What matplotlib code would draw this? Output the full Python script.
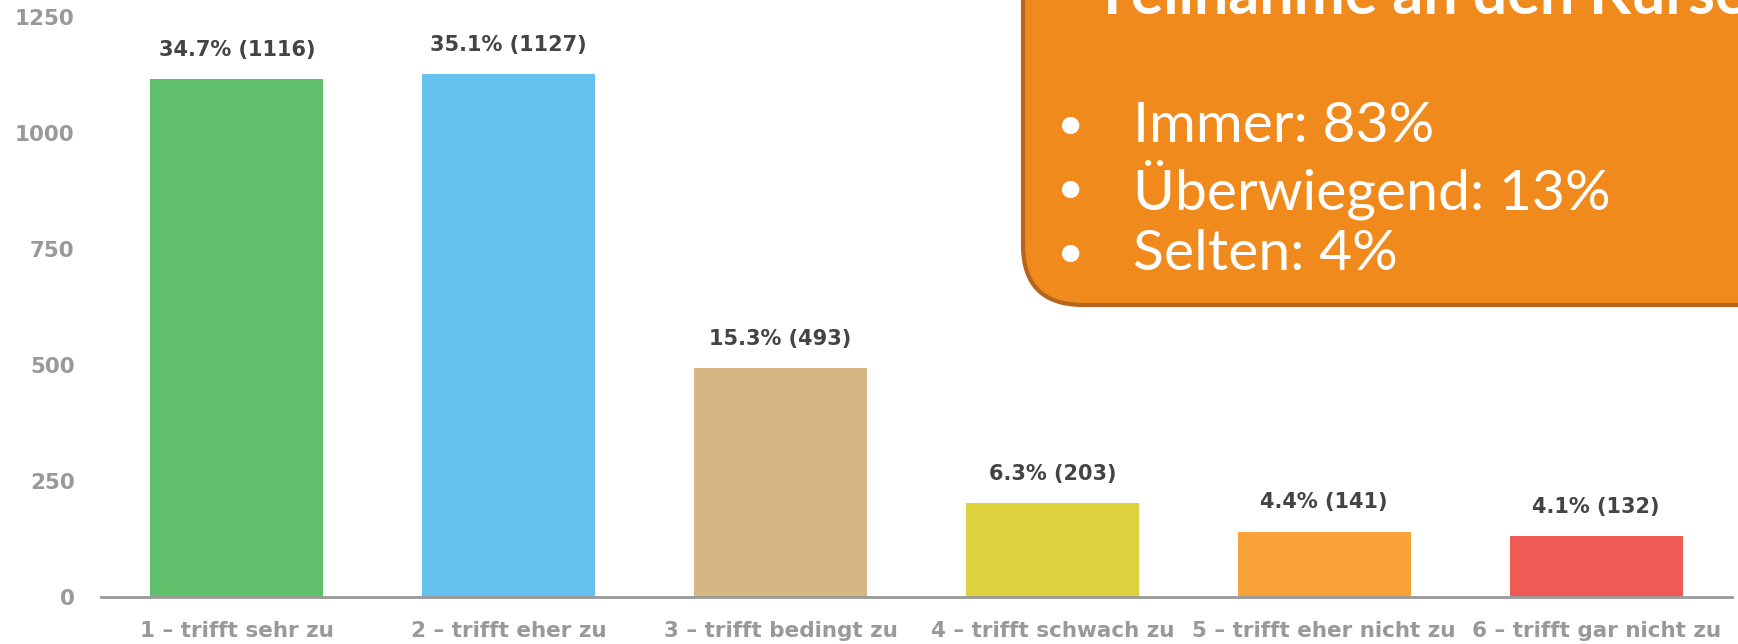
import matplotlib.pyplot as plt
from matplotlib.patches import FancyBboxPatch

# daten
kategorien = ["1 – trifft sehr zu", "2 – trifft eher zu", "3 – trifft bedingt zu",
              "4 – trifft schwach zu", "5 – trifft eher nicht zu", "6 – trifft gar nicht zu"]
anzahl = [1116, 1127, 493, 203, 141, 132]
prozent = [34.7, 35.1, 15.3, 6.3, 4.4, 4.1]
farben = ["#5fbf6a", "#67c1ef", "#d7b686", "#ddd13e", "#f9a23a", "#f05a55"]
y_ticks = [0, 250, 500, 750, 1000, 1250]

box_titel = "Teilnahme an den Kursen"
box_punkte = ["Immer: 83%", "Überwiegend: 13%", "Selten: 4%"]

W, H = 1738, 644
fig = plt.figure(figsize=(W / 100, H / 100), dpi=100)
ax = fig.add_axes([101 / W, 1 - 597 / H, (1732 - 101) / W, (597 - 17) / H])

x = range(len(kategorien))
ax.bar(x, anzahl, width=0.636, color=farben)
for i in x:
    ax.annotate(f"{prozent[i]}% ({anzahl[i]})", (i, anzahl[i]), xytext=(0, 21),
                textcoords="offset points", ha="center", va="center",
                fontsize=15, fontweight="bold", color="#444444")

ax.set_xlim(-0.5, len(kategorien) - 0.5)
ax.set_ylim(0, 1250)
ax.set_yticks(y_ticks)
ax.set_xticks(list(x))
ax.set_xticklabels(kategorien)
ax.tick_params(length=0, colors="#999999", labelsize=15.5)
ax.tick_params(axis="y", pad=19)
ax.tick_params(axis="x", pad=17)
for lab in ax.get_xticklabels() + ax.get_yticklabels():
    lab.set_fontweight("bold")
for s in ["top", "right", "left"]:
    ax.spines[s].set_visible(False)
ax.spines["bottom"].set_color("#999999")
ax.spines["bottom"].set_linewidth(2)

# orange infobox oben rechts (pixel-koordinaten)
ov = fig.add_axes([0, 0, 1, 1])
ov.set_xlim(0, W)
ov.set_ylim(H, 0)
ov.axis("off")
box = FancyBboxPatch((1023, -200), 900, 505, boxstyle="round,pad=0,rounding_size=60",
                     facecolor="#f18a1d", edgecolor="#b5651d", linewidth=3)
ov.add_patch(box)
ov.text(1094, 14, box_titel, fontsize=44, fontweight="bold", color="white",
        family="Lato", va="baseline", ha="left")
for k, t in enumerate(box_punkte):
    yy = 126 + k * 64
    ov.text(1070, yy, "•", fontsize=34, color="white", family="Lato", va="center", ha="center")
    ov.text(1133, yy, t, fontsize=41, color="white", family="Lato", va="center", ha="left")

fig.savefig("out.png", dpi=100)
